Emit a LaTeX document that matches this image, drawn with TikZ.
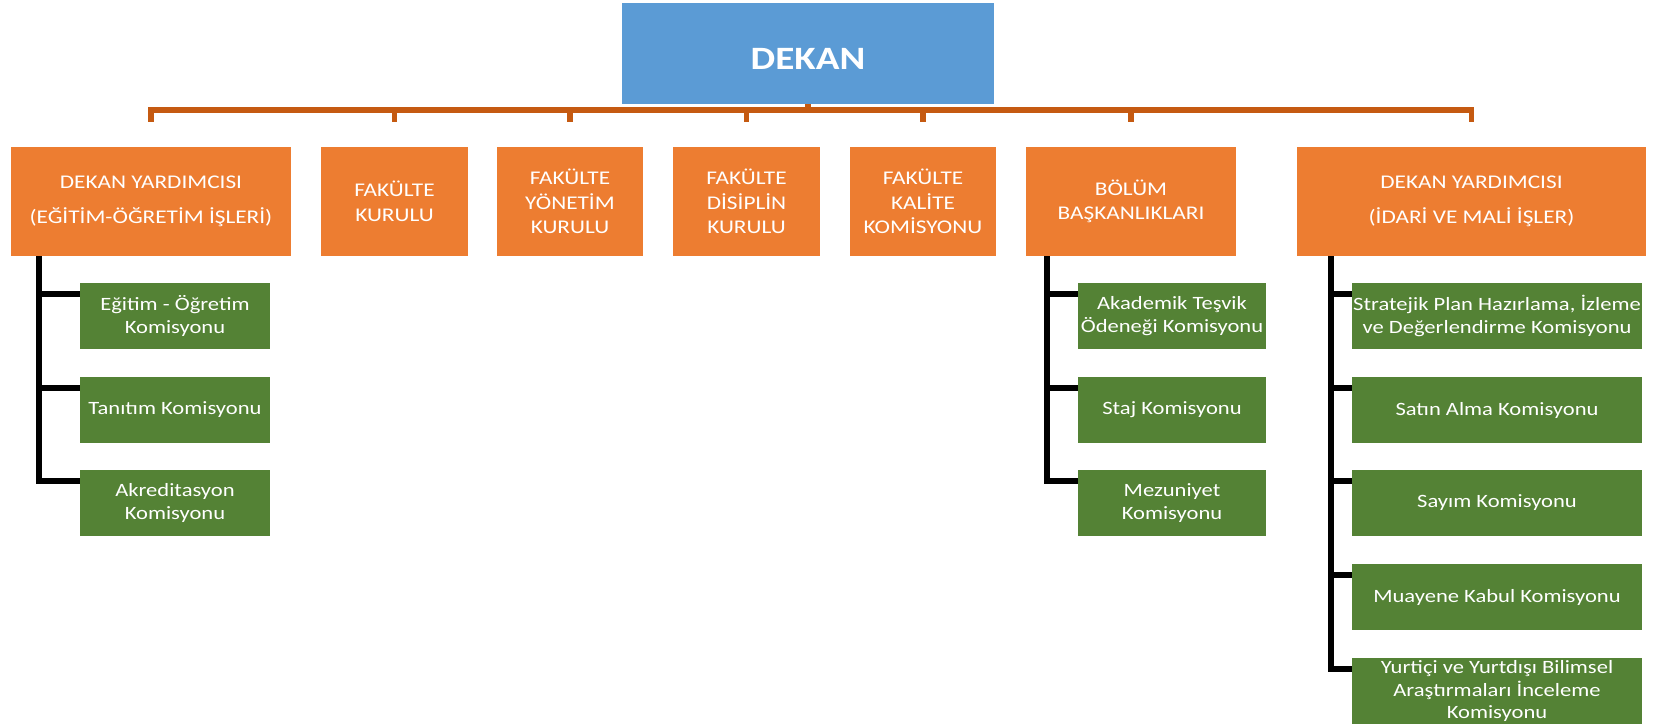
\documentclass[tikz,border=0pt]{standalone}
\usepackage{fontspec}
\setmainfont{Carlito}[FakeStretch=1.2]
\definecolor{dekanblue}{HTML}{5B9BD5}
\definecolor{unitorange}{HTML}{ED7D31}
\definecolor{busorange}{HTML}{C55A11}
\definecolor{komgreen}{HTML}{548235}
\tikzset{
  dekanbox/.style={fill=dekanblue, text=white, inner sep=0pt, minimum width=186pt, minimum height=50.5pt, text height=16pt, text depth=0pt, font=\fontsize{16.3}{19}\selectfont\bfseries},
  unitbox/.style={fill=unitorange, text=white, align=center, inner sep=0pt, minimum width=#1, minimum height=54.5pt, font=\fontsize{9.7}{12.3}\selectfont},
  kombox/.style={fill=komgreen, text=white, align=center, inner sep=0pt, minimum width=#1, minimum height=33pt, font=\fontsize{9.4}{11.4}\selectfont},
  busline/.style={draw=busorange, line width=2.6pt},
  spine/.style={draw=black, line width=3pt}
}
\begin{document}
\begin{tikzpicture}[x=0.5pt,y=-0.5pt]
\useasboundingbox (0,0) rectangle (1659,726);
\node[dekanbox] (dekan) at (808,53.5) {DEKAN};
\foreach \name/\x/\w/\txt in {
  dyegitim/151/140pt/{DEKAN YARDIMCISI\\[5pt](EĞİTİM-ÖĞRETİM İŞLERİ)},
  fkurul/394.5/73.5pt/{FAKÜLTE\\KURULU},
  fyonetim/570/73pt/{FAKÜLTE\\YÖNETİM\\KURULU},
  fdisiplin/746.5/73.5pt/{FAKÜLTE\\DİSİPLİN\\KURULU},
  fkalite/923/73pt/{FAKÜLTE\\KALİTE\\KOMİSYONU},
  bolum/1131/105pt/{BÖLÜM\\BAŞKANLIKLARI},
  dyidari/1471.5/174.5pt/{DEKAN YARDIMCISI\\[5pt](İDARİ VE MALİ İŞLER)}}
  \node[unitbox=\w] (\name) at (\x,201.5) {\txt};
\coordinate (bus) at (0,110);
\coordinate (tickend) at (0,122);
\draw[busline] (dekan.south) -- (dekan.south |- bus);
\draw[busline] (dyegitim |- tickend) -- (dyegitim |- bus) -- (dyidari |- bus) -- (dyidari |- tickend);
\foreach \name in {fkurul,fyonetim,fdisiplin,fkalite,bolum}
  \draw[busline] (\name |- bus) -- (\name |- tickend);
\foreach \name/\y/\txt in {
  kegitim/316/{Eğitim - Öğretim\\Komisyonu},
  ktanitim/410/{Tanıtım Komisyonu},
  kakredit/503/{Akreditasyon\\Komisyonu}}
  {
  \node[kombox=95pt] (\name) at (175,\y) {\txt};
  \draw[spine] (dyegitim.south -| 39,0) |- ([yshift=-5.5pt]\name.north west);
  }
\foreach \name/\y/\txt in {
  ktesvik/316/{Akademik Teşvik\\Ödeneği Komisyonu},
  kstaj/410/{Staj Komisyonu},
  kmezun/503/{Mezuniyet\\Komisyonu}}
  {
  \node[kombox=94pt] (\name) at (1172,\y) {\txt};
  \draw[spine] (bolum.south -| 1047,0) |- ([yshift=-5.5pt]\name.north west);
  }
\foreach \name/\y/\txt in {
  kstrateji/316/{Stratejik Plan Hazırlama, İzleme\\ve Değerlendirme Komisyonu},
  ksatin/410/{Satın Alma Komisyonu},
  ksayim/503/{Sayım Komisyonu},
  kmuayene/597/{Muayene Kabul Komisyonu},
  kbilim/691/{Yurtiçi ve Yurtdışı Bilimsel\\Araştırmaları İnceleme\\Komisyonu}}
  {
  \node[kombox=145pt] (\name) at (1497,\y) {\txt};
  \draw[spine] (dyidari.south -| 1331,0) |- ([yshift=-5.5pt]\name.north west);
  }
\end{tikzpicture}
\end{document}
